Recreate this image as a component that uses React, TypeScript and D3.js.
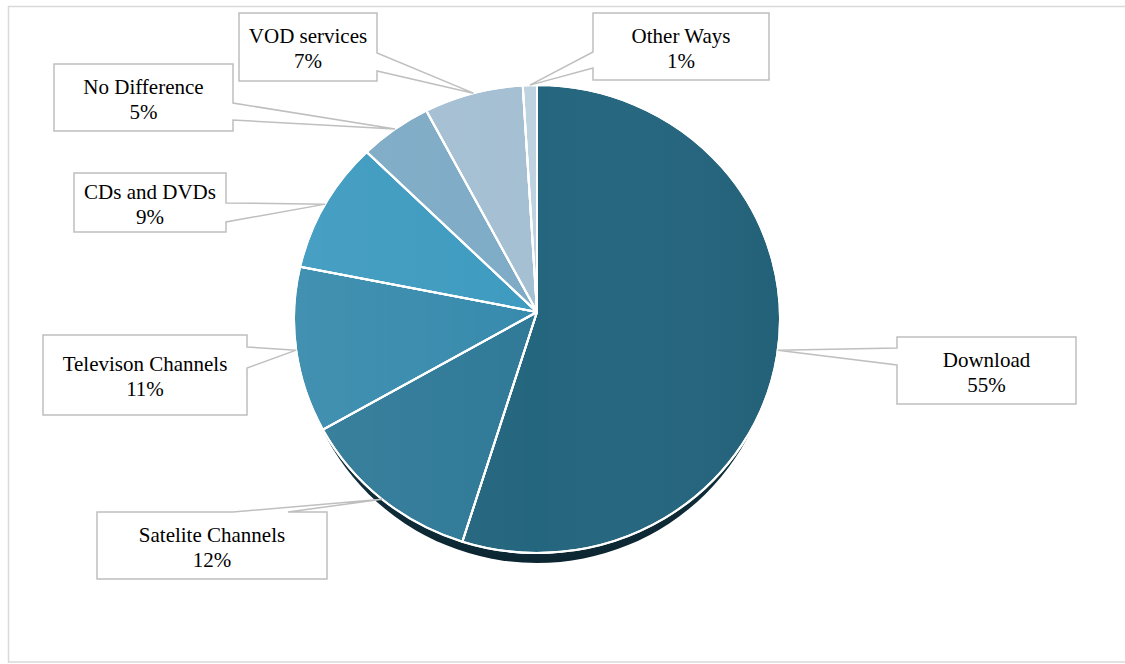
import React from "react";
import * as d3 from "d3";

const categories = [
  "Download",
  "Satelite Channels",
  "Televison Channels",
  "CDs and DVDs",
  "No Difference",
  "VOD services",
  "Other Ways",
];
const values = [55, 12, 11, 9, 5, 7, 1];
const percentLabels = ["55%", "12%", "11%", "9%", "5%", "7%", "1%"];
const colors = ["#25667f", "#307a98", "#388bad", "#3e9bc0", "#7eabc6", "#a5bfd3", "#bfd2df"];

// callout box layout: [x0, y0, x1, y1], pointer edge, pointer base positions along that edge
type Box = { x0: number; y0: number; x1: number; y1: number; edge: "left" | "right" | "top"; p1: number; p2: number };
const boxes: Box[] = [
  { x0: 897, y0: 337, x1: 1076, y1: 404, edge: "left", p1: 348, p2: 365 },
  { x0: 97, y0: 512, x1: 327, y1: 579, edge: "top", p1: 233, p2: 288 },
  { x0: 43, y0: 335, x1: 247, y1: 415, edge: "right", p1: 347, p2: 368 },
  { x0: 74, y0: 173, x1: 226, y1: 232, edge: "right", p1: 203, p2: 222 },
  { x0: 54, y0: 64, x1: 233, y1: 131, edge: "right", p1: 103, p2: 120 },
  { x0: 239, y0: 13, x1: 377, y1: 81, edge: "right", p1: 53, p2: 71 },
  { x0: 593, y0: 13, x1: 769, y1: 80, edge: "left", p1: 52, p2: 68 },
];

const W = 1125;
const H = 664;
const cx = 537;
const cy = 319;
const rx = 243;
const ry = 234;
const ax = 537;
const ay = 312;
const FONT = '"Liberation Serif", "Times New Roman", Times, Tinos, "DejaVu Serif", serif';

function rayHit(theta: number): [number, number] {
  const s = Math.sin(theta);
  const c = -Math.cos(theta);
  const dx0 = ax - cx;
  const dy0 = ay - cy;
  const A = (s * s) / (rx * rx) + (c * c) / (ry * ry);
  const B = 2 * ((dx0 * s) / (rx * rx) + (dy0 * c) / (ry * ry));
  const C = (dx0 * dx0) / (rx * rx) + (dy0 * dy0) / (ry * ry) - 1;
  const t = (-B + Math.sqrt(B * B - 4 * A * C)) / (2 * A);
  return [ax + t * s, ay + t * c];
}

function param(p: [number, number]) {
  return Math.atan2((p[1] - cy) / ry, (p[0] - cx) / rx);
}

function slicePath(a0: number, a1: number) {
  const p0 = rayHit(a0);
  const p1 = rayHit(a1);
  let span = param(p1) - param(p0);
  span = ((span % (2 * Math.PI)) + 2 * Math.PI) % (2 * Math.PI);
  const large = span > Math.PI ? 1 : 0;
  return `M${ax},${ay}L${p0[0]},${p0[1]}A${rx},${ry} 0 ${large} 1 ${p1[0]},${p1[1]}Z`;
}

function calloutPath(b: Box, anchor: [number, number]) {
  const [px, py] = anchor;
  if (b.edge === "left") {
    return `M${b.x0},${b.y0}H${b.x1}V${b.y1}H${b.x0}V${b.p2}L${px},${py}L${b.x0},${b.p1}Z`;
  }
  if (b.edge === "right") {
    return `M${b.x0},${b.y0}H${b.x1}V${b.p1}L${px},${py}L${b.x1},${b.p2}V${b.y1}H${b.x0}Z`;
  }
  return `M${b.x0},${b.y0}H${b.p1}L${px},${py}L${b.p2},${b.y0}H${b.x1}V${b.y1}H${b.x0}Z`;
}

export default function App() {
  const pie = d3.pie<number>().sort(null).value((d) => d);
  const arcs = pie(values);

  return (
    <div style={{ position: "absolute", left: 0, top: 0 }}>
      <svg width={W} height={H} style={{ display: "block" }}>
        <defs>
          <linearGradient id="shade" x1="0" y1="0" x2="1" y2="0">
            <stop offset="0" stopColor="#ffffff" stopOpacity={0.05} />
            <stop offset="0.5" stopColor="#ffffff" stopOpacity={0} />
            <stop offset="1" stopColor="#000000" stopOpacity={0.05} />
          </linearGradient>
          <radialGradient id="shadowG" cx="0.5" cy="0.3" r="0.75">
            <stop offset="0.6" stopColor="#1d4556" />
            <stop offset="1" stopColor="#08202a" />
          </radialGradient>
        </defs>
        <rect x={8.5} y={6.5} width={1130} height={655.5} fill="#fff" stroke="#d9d9d9" strokeWidth={1.5} />

        <ellipse cx={cx} cy={cy + 9} rx={rx - 5} ry={ry + 1} fill="url(#shadowG)" />

        {arcs.map((a, i) => (
          <path key={categories[i]} d={slicePath(a.startAngle, a.endAngle)} fill={colors[i]} stroke="#ffffff" strokeWidth={2} strokeLinejoin="round" />
        ))}
        <ellipse cx={cx} cy={cy} rx={rx} ry={ry} fill="url(#shade)" pointerEvents="none" />
        {arcs.map((a, i) => (
          <path key={"s" + i} d={slicePath(a.startAngle, a.endAngle)} fill="none" stroke="#ffffff" strokeWidth={2} strokeLinejoin="round" />
        ))}

        {arcs.map((a, i) => {
          const b = boxes[i];
          const mid = (a.startAngle + a.endAngle) / 2;
          const anchor = rayHit(mid);
          const tx = (b.x0 + b.x1) / 2;
          const tcy = (b.y0 + b.y1) / 2;
          return (
            <g key={"c" + i}>
              <path d={calloutPath(b, anchor)} fill="#ffffff" stroke="#bfbfbf" strokeWidth={1.5} strokeLinejoin="miter" />
              <text textAnchor="middle" style={{ fontFamily: FONT, fontSize: "21px" }} fill="#000">
                <tspan x={tx} y={tcy - 4}>{categories[i]}</tspan>
                <tspan x={tx} y={tcy + 21}>{percentLabels[i]}</tspan>
              </text>
            </g>
          );
        })}
      </svg>
    </div>
  );
}
